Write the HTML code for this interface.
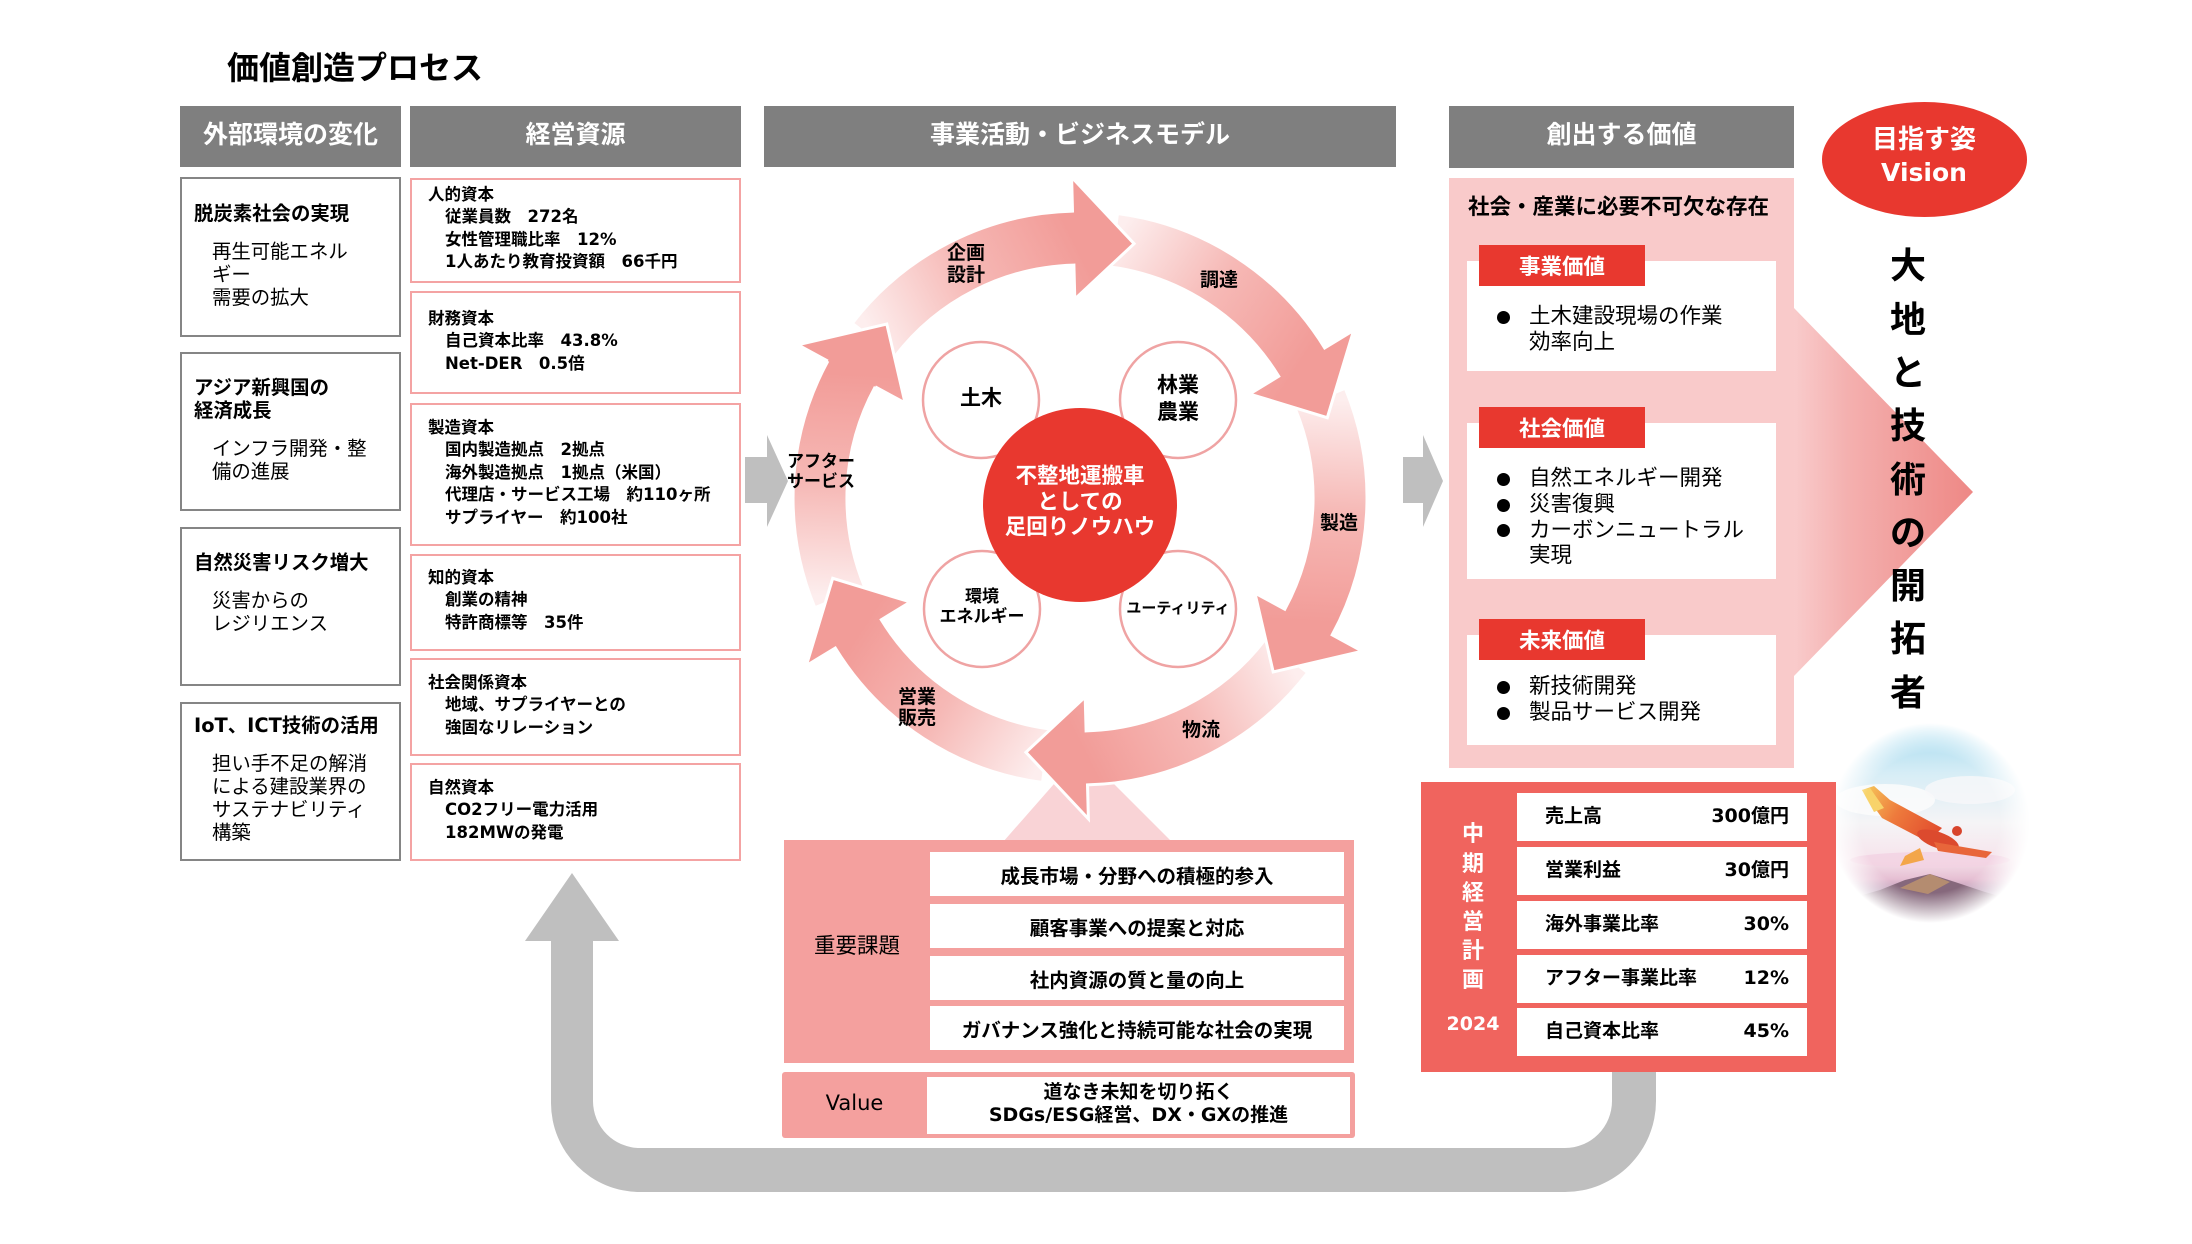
<!DOCTYPE html>
<html lang="ja"><head><meta charset="utf-8"><title>価値創造プロセス</title>
<style>
*{margin:0;padding:0;box-sizing:border-box}
html,body{width:2192px;height:1244px;overflow:hidden;background:#fff}
body{position:relative;font-family:"DejaVu Sans","Noto Sans CJK JP",sans-serif;color:#000}
.a{position:absolute;white-space:nowrap}
.b{font-weight:700}
.hd{position:absolute;background:#7f7f7f;color:#fff;font-weight:700;font-size:25px;display:flex;align-items:center;justify-content:center;padding-bottom:8px}
.lb{position:absolute;left:180px;width:221px;border:2px solid #858585}
.pb{position:absolute;left:410px;width:331px;border:2px solid #f4a3a3}
.pt{position:absolute;left:428px;font-size:16.5px;font-weight:700;line-height:22.6px;white-space:nowrap}
.pt .i{padding-left:17px}
.lt{position:absolute;left:194px;font-size:19.4px;font-weight:700;line-height:23px;white-space:nowrap}
.ls{position:absolute;left:212px;font-size:19.4px;line-height:23.3px;white-space:nowrap}
.c{position:absolute;text-align:center;white-space:nowrap}
.wr{position:absolute;background:#fff}
.row{position:absolute;left:930px;width:414px;height:44px;background:#fff;display:flex;align-items:center;justify-content:center;font-size:19.5px;font-weight:700}
.kr{position:absolute;left:1517px;width:290px;height:48px;background:#fff}
.kl{position:absolute;left:28px;top:0;line-height:46px;font-size:19px;font-weight:700;white-space:nowrap}
.kv{position:absolute;right:18px;top:0;line-height:46px;font-size:19px;font-weight:700;white-space:nowrap}
.lab{position:absolute;left:1479px;width:166px;height:41px;background:#e8382f;color:#fff;font-weight:700;font-size:21.5px;display:flex;align-items:center;justify-content:center}
.bt{position:absolute;left:1529px;font-size:21.5px;line-height:25.7px;white-space:nowrap}
.dot{position:absolute;left:1497px;width:13px;height:13px;border-radius:50%;background:#000}
</style></head><body>

<svg class="a" style="left:0;top:0" width="2192" height="1244" viewBox="0 0 2192 1244" xmlns="http://www.w3.org/2000/svg">
<defs>
<linearGradient id="g0" gradientUnits="userSpaceOnUse" x1="873.7" y1="339.7" x2="1073.2" y2="238.1"><stop offset="0" stop-color="#fdeeee"/><stop offset="0.5" stop-color="#f6b9b6"/><stop offset="1" stop-color="#f29c98"/></linearGradient>
<linearGradient id="g1" gradientUnits="userSpaceOnUse" x1="1113.9" y1="240.2" x2="1301.7" y2="362.2"><stop offset="0" stop-color="#fdeeee"/><stop offset="0.5" stop-color="#f6b9b6"/><stop offset="1" stop-color="#f29c98"/></linearGradient>
<linearGradient id="g2" gradientUnits="userSpaceOnUse" x1="1320.2" y1="398.5" x2="1308.5" y2="622.1"><stop offset="0" stop-color="#fdeeee"/><stop offset="0.5" stop-color="#f6b9b6"/><stop offset="1" stop-color="#f29c98"/></linearGradient>
<linearGradient id="g3" gradientUnits="userSpaceOnUse" x1="1286.3" y1="656.3" x2="1086.8" y2="757.9"><stop offset="0" stop-color="#fdeeee"/><stop offset="0.5" stop-color="#f6b9b6"/><stop offset="1" stop-color="#f29c98"/></linearGradient>
<linearGradient id="g4" gradientUnits="userSpaceOnUse" x1="1046.1" y1="755.8" x2="858.3" y2="633.9"><stop offset="0" stop-color="#fdeeee"/><stop offset="0.5" stop-color="#f6b9b6"/><stop offset="1" stop-color="#f29c98"/></linearGradient>
<linearGradient id="g5" gradientUnits="userSpaceOnUse" x1="839.8" y1="597.5" x2="851.5" y2="373.9"><stop offset="0" stop-color="#fdeeee"/><stop offset="0.5" stop-color="#f6b9b6"/><stop offset="1" stop-color="#f29c98"/></linearGradient>
<linearGradient id="pa" gradientUnits="userSpaceOnUse" x1="1794" y1="0" x2="1973" y2="0"><stop offset="0" stop-color="#f9cbcb"/><stop offset="0.3" stop-color="#f4b0af"/><stop offset="1" stop-color="#ee8885"/></linearGradient>
<radialGradient id="bm" gradientUnits="userSpaceOnUse" cx="1930" cy="823" r="100"><stop offset="0.7" stop-color="#fff"/><stop offset="1" stop-color="#000"/></radialGradient>
<mask id="bmask" maskUnits="userSpaceOnUse" x="1820" y="713" width="220" height="220"><rect x="1820" y="713" width="220" height="220" fill="url(#bm)"/></mask>
<linearGradient id="sky" gradientUnits="userSpaceOnUse" x1="0" y1="723" x2="0" y2="923"><stop offset="0" stop-color="#9fd8ee"/><stop offset="0.25" stop-color="#d6edf6"/><stop offset="0.5" stop-color="#f5f4f6"/><stop offset="0.68" stop-color="#f6e4ec"/><stop offset="0.78" stop-color="#e6bfd3"/><stop offset="0.86" stop-color="#a98aa8"/><stop offset="0.94" stop-color="#8a6f7e"/><stop offset="1" stop-color="#e6d8d2"/></linearGradient>
<linearGradient id="wing" gradientUnits="userSpaceOnUse" x1="1862" y1="790" x2="1940" y2="840"><stop offset="0" stop-color="#f6c75a"/><stop offset="0.45" stop-color="#ee7a3c"/><stop offset="1" stop-color="#e0472c"/></linearGradient>
</defs>

<!-- big pink arrow to vision -->
<polygon points="1794,308 1973,492 1794,676" fill="url(#pa)"/>
<!-- gray chevrons -->
<polygon points="745,457 767,457 767,435 788,481 767,527 767,503 745,503" fill="#bfbfbf"/>
<polygon points="1403,457 1423,457 1423,435 1443,481 1423,527 1423,503 1403,503" fill="#bfbfbf"/>
<!-- return arrow -->
<path d="M1612,1068 L1612,1101 A47,47 0 0 1 1565,1148 L640,1148 A47,47 0 0 1 593,1101 L593,941 L619,941 L572,873 L525,941 L551,941 L551,1103 A89,89 0 0 0 640,1192 L1565,1192 A91,91 0 0 0 1656,1101 L1656,1068 Z" fill="#bfbfbf"/>
<!-- trapezoid -->
<polygon points="1075,760 1090,760 1172,842 1003,842" fill="#f9d3d6"/>

<!-- ring arrows -->
<g stroke="#fff" stroke-width="3" stroke-linejoin="miter">
<path d="M814.9,607.8 A287,287 0 0 1 827.8,361.1 L797.9,344.8 L886.8,324.0 L905.1,403.0 L875.2,386.8 A233,233 0 0 0 864.7,587.2 Z" fill="url(#g5)"/>
<path d="M1042.5,782.5 A287,287 0 0 1 835.3,648.0 L806.3,665.7 L832.7,578.3 L910.3,602.0 L881.3,619.7 A233,233 0 0 0 1049.6,729.0 Z" fill="url(#g4)"/>
<path d="M1307.7,672.7 A287,287 0 0 1 1087.5,784.9 L1088.4,818.9 L1025.9,752.3 L1085.2,696.9 L1086.1,730.9 A233,233 0 0 0 1264.9,639.8 Z" fill="url(#g3)"/>
<path d="M1345.2,388.2 A287,287 0 0 1 1332.2,634.9 L1362.1,651.2 L1273.2,672.0 L1254.9,593.0 L1284.8,609.2 A233,233 0 0 0 1295.3,408.8 Z" fill="url(#g2)"/>
<path d="M1117.5,213.5 A287,287 0 0 1 1324.7,348.0 L1353.7,330.3 L1327.3,417.7 L1249.7,394.0 L1278.7,376.3 A233,233 0 0 0 1110.4,267.0 Z" fill="url(#g1)"/>
<path d="M852.3,323.3 A287,287 0 0 1 1072.5,211.1 L1071.6,177.1 L1134.1,243.7 L1074.8,299.1 L1073.9,265.1 A233,233 0 0 0 895.1,356.2 Z" fill="url(#g0)"/>
</g>
<path d="M797.9,344.8 L886.8,324.0 L905.1,403.0 Z" fill="url(#g5)"/>
<path d="M827.8,361.1 L797.9,344.8 L886.8,324.0 L905.1,403.0 L875.2,386.8" fill="none" stroke="#fff" stroke-width="3"/>

<!-- inner circles -->
<g fill="#fff" stroke="#efa3a3" stroke-width="2.5">
<circle cx="981" cy="400" r="58"/>
<circle cx="1178" cy="400" r="58"/>
<circle cx="982" cy="609" r="58"/>
<circle cx="1178" cy="609" r="58"/>
</g>
<circle cx="1080" cy="505" r="97" fill="#e8382f"/>

<!-- vision ellipse -->
<ellipse cx="1924.5" cy="159.5" rx="102.5" ry="57.5" fill="#e8382f"/>

<!-- bird image -->
<g mask="url(#bmask)">
<rect x="1820" y="713" width="220" height="220" fill="url(#sky)"/>
<ellipse cx="1885" cy="800" rx="50" ry="16" fill="#fbfbfc" opacity="0.85"/>
<ellipse cx="1970" cy="790" rx="45" ry="14" fill="#f8f8fa" opacity="0.8"/>
<ellipse cx="1930" cy="860" rx="80" ry="8" fill="#f2d2e2" opacity="0.8"/>
<polygon points="1845,900 1880,890 1905,880 1930,874 1955,882 1985,892 2020,902 2020,930 1845,930" fill="#86687c"/>
<polygon points="1900,888 1930,874 1950,882 1928,894" fill="#b48c70"/>
<polygon points="1862,790 1874,786 1890,800 1942,828 1928,842 1882,818" fill="url(#wing)"/>
<polygon points="1862,790 1870,788 1884,808 1874,812" fill="#f8d36a"/>
<ellipse cx="1938" cy="840" rx="22" ry="8" transform="rotate(20 1938 840)" fill="#dc4a2e"/>
<circle cx="1957" cy="831" r="5" fill="#d8442c"/>
<polygon points="1934,842 1992,852 1986,858 1938,851" fill="#e8663a"/>
<polygon points="1905,856 1920,848 1924,860 1900,866" fill="#f3a64a"/>
</g>
</svg>

<!-- Title -->
<div class="a b" style="left:227px;top:52px;font-size:32px;line-height:32px">価値創造プロセス</div>

<!-- Headers -->
<div class="hd" style="left:180px;top:106px;width:221px;height:61px">外部環境の変化</div>
<div class="hd" style="left:410px;top:106px;width:331px;height:61px">経営資源</div>
<div class="hd" style="left:764px;top:106px;width:632px;height:61px">事業活動・ビジネスモデル</div>
<div class="hd" style="left:1449px;top:106px;width:345px;height:62px">創出する価値</div>

<!-- Left boxes -->
<div class="lb" style="top:177px;height:160px"></div>
<div class="lb" style="top:352px;height:159px"></div>
<div class="lb" style="top:527px;height:159px"></div>
<div class="lb" style="top:702px;height:159px"></div>
<div class="lt" style="top:201.5px">脱炭素社会の実現</div>
<div class="ls" style="top:239.5px">再生可能エネル<br>ギー<br>需要の拡大</div>
<div class="lt" style="top:375.5px">アジア新興国の<br>経済成長</div>
<div class="ls" style="top:436.5px">インフラ開発・整<br>備の進展</div>
<div class="lt" style="top:550.5px">自然災害リスク増大</div>
<div class="ls" style="top:588.5px">災害からの<br>レジリエンス</div>
<div class="lt" style="top:713.5px">IoT、ICT技術の活用</div>
<div class="ls" style="top:751.5px">担い手不足の解消<br>による建設業界の<br>サステナビリティ<br>構築</div>

<!-- Pink resource boxes -->
<div class="pb" style="top:178px;height:105px"></div>
<div class="pb" style="top:291px;height:103px"></div>
<div class="pb" style="top:403px;height:143px"></div>
<div class="pb" style="top:554px;height:97px"></div>
<div class="pb" style="top:658px;height:98px"></div>
<div class="pb" style="top:763px;height:98px"></div>
<div class="pt" style="top:183.7px"><div>人的資本</div><div class="i">従業員数　272名</div><div class="i">女性管理職比率　12%</div><div class="i">1人あたり教育投資額　66千円</div></div>
<div class="pt" style="top:307.5px"><div>財務資本</div><div class="i">自己資本比率　43.8%</div><div class="i">Net-DER　0.5倍</div></div>
<div class="pt" style="top:416.7px"><div>製造資本</div><div class="i">国内製造拠点　2拠点</div><div class="i">海外製造拠点　1拠点（米国）</div><div class="i">代理店・サービス工場　約110ヶ所</div><div class="i">サプライヤー　約100社</div></div>
<div class="pt" style="top:566.7px"><div>知的資本</div><div class="i">創業の精神</div><div class="i">特許商標等　35件</div></div>
<div class="pt" style="top:671.7px"><div>社会関係資本</div><div class="i">地域、サプライヤーとの</div><div class="i">強固なリレーション</div></div>
<div class="pt" style="top:776.7px"><div>自然資本</div><div class="i">CO2フリー電力活用</div><div class="i">182MWの発電</div></div>

<!-- Ring labels -->
<div class="c b" style="left:926px;width:80px;top:242px;font-size:19px;line-height:22px">企画<br>設計</div>
<div class="c b" style="left:1179px;width:80px;top:269px;font-size:19px;line-height:22px">調達</div>
<div class="a b" style="left:787px;top:452px;font-size:17px;line-height:20px">アフター<br>サービス</div>
<div class="c b" style="left:1299px;width:80px;top:512px;font-size:19px;line-height:22px">製造</div>
<div class="c b" style="left:1161px;width:80px;top:719px;font-size:19px;line-height:22px">物流</div>
<div class="c b" style="left:877px;width:80px;top:686.5px;font-size:19px;line-height:21px">営業<br>販売</div>
<div class="c b" style="left:931px;width:100px;top:385px;font-size:21px;line-height:26px">土木</div>
<div class="c b" style="left:1128px;width:100px;top:371.5px;font-size:21px;line-height:27px">林業<br>農業</div>
<div class="c b" style="left:922px;width:120px;top:587px;font-size:17px;line-height:20px">環境<br>エネルギー</div>
<div class="c b" style="left:1113px;width:130px;top:598px;font-size:15px;line-height:20px">ユーティリティ</div>
<div class="c b" style="left:980px;width:200px;top:464px;font-size:21.5px;line-height:25.5px;color:#fff">不整地運搬車<br>としての<br>足回りノウハウ</div>

<!-- 重要課題 -->
<div class="a" style="left:784px;top:840px;width:570px;height:223px;background:#f4a09e"></div>
<div class="c" style="left:784px;width:146px;top:933px;font-size:21.5px;line-height:28px">重要課題</div>
<div class="row" style="top:852px">成長市場・分野への積極的参入</div>
<div class="row" style="top:904px">顧客事業への提案と対応</div>
<div class="row" style="top:956px">社内資源の質と量の向上</div>
<div class="row" style="top:1006px">ガバナンス強化と持続可能な社会の実現</div>

<!-- Value -->
<div class="a" style="left:782px;top:1072px;width:573px;height:66px;background:#f4a09e;border-radius:3px"></div>
<div class="c" style="left:782px;width:145px;top:1089px;font-size:21px;line-height:28px">Value</div>
<div class="wr" style="left:927px;top:1077px;width:423px;height:57px"></div>
<div class="c b" style="left:927px;width:423px;top:1080.5px;font-size:19px;line-height:23px">道なき未知を切り拓く<br>SDGs/ESG経営、DX・GXの推進</div>

<!-- 創出する価値 panel -->
<div class="a" style="left:1449px;top:178px;width:345px;height:590px;background:#f9caca"></div>
<div class="a b" style="left:1468px;top:195px;font-size:21.5px;line-height:26px">社会・産業に必要不可欠な存在</div>
<div class="wr" style="left:1467px;top:261px;width:309px;height:110px"></div>
<div class="wr" style="left:1467px;top:423px;width:309px;height:156px"></div>
<div class="wr" style="left:1467px;top:635px;width:309px;height:110px"></div>
<div class="lab" style="top:245px">事業価値</div>
<div class="lab" style="top:407px">社会価値</div>
<div class="lab" style="top:619px">未来価値</div>
<div class="dot" style="top:310.5px"></div>
<div class="bt" style="top:304.2px">土木建設現場の作業<br>効率向上</div>
<div class="dot" style="top:472.5px"></div>
<div class="dot" style="top:498.5px"></div>
<div class="dot" style="top:523.5px"></div>
<div class="bt" style="top:466.2px">自然エネルギー開発<br>災害復興<br>カーボンニュートラル<br>実現</div>
<div class="dot" style="top:680.5px"></div>
<div class="dot" style="top:706.5px"></div>
<div class="bt" style="top:674.2px">新技術開発<br>製品サービス開発</div>

<!-- 中期経営計画 -->
<div class="a" style="left:1421px;top:782px;width:415px;height:290px;background:#f0645e"></div>
<div class="c b" style="left:1453px;width:40px;top:820.4px;font-size:22px;line-height:29.2px;color:#fff">中<br>期<br>経<br>営<br>計<br>画</div>
<div class="c b" style="left:1433px;width:80px;top:1010px;font-size:19px;line-height:28px;color:#fff">2024</div>
<div class="kr" style="top:793px"><span class="kl">売上高</span><span class="kv">300億円</span></div>
<div class="kr" style="top:847px"><span class="kl">営業利益</span><span class="kv">30億円</span></div>
<div class="kr" style="top:901px"><span class="kl">海外事業比率</span><span class="kv">30%</span></div>
<div class="kr" style="top:955px"><span class="kl">アフター事業比率</span><span class="kv">12%</span></div>
<div class="kr" style="top:1008px"><span class="kl">自己資本比率</span><span class="kv">45%</span></div>

<!-- Vision -->
<div class="c b" style="left:1844px;width:160px;top:124px;font-size:26px;line-height:32px;color:#fff">目指す姿</div>
<div class="c b" style="left:1844px;width:160px;top:157px;font-size:25px;line-height:32px;color:#fff">Vision</div>
<div class="c b" style="left:1873px;width:70px;top:240.4px;font-size:36px;line-height:53.3px">大<br>地<br>と<br>技<br>術<br>の<br>開<br>拓<br>者</div>

</body></html>
